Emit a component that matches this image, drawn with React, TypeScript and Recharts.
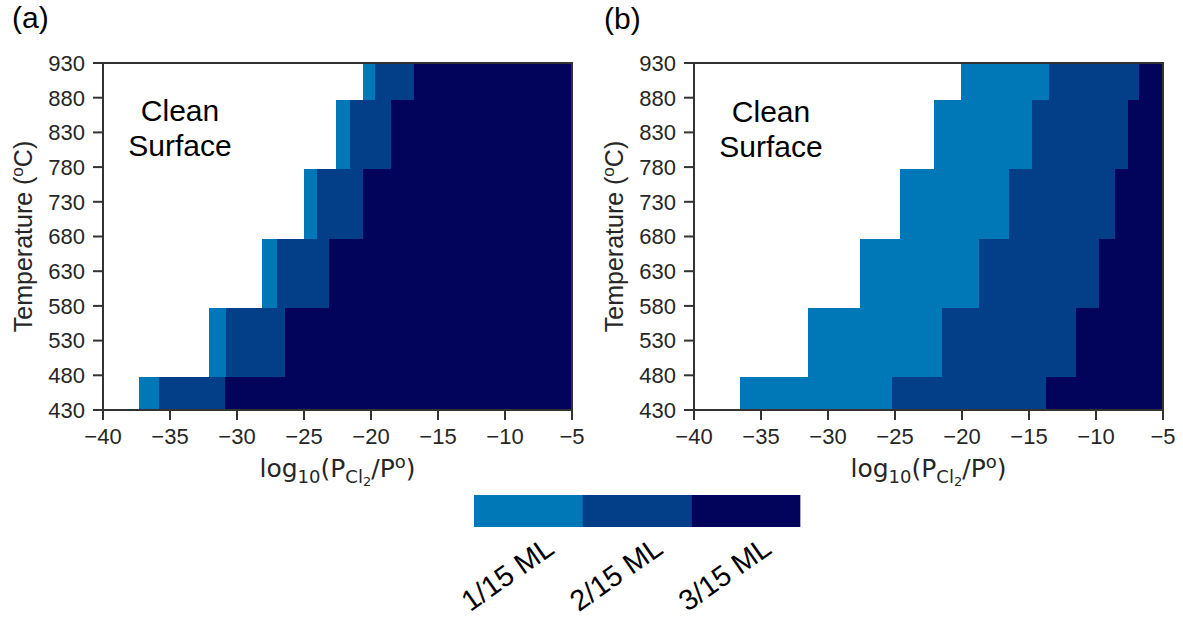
import { ComposedChart, XAxis, YAxis, ReferenceArea, BarChart, Bar, Cell } from 'recharts';

// temperature row edges (°C) and axis ticks
const TEMP_EDGES = [430, 477, 577, 677, 777, 877, 930];
const TEMP_TICKS = [430, 480, 530, 580, 630, 680, 730, 780, 830, 880, 930];
const P_TICKS = [-40, -35, -30, -25, -20, -15, -10, -5];

const COVERAGE_LABELS = ['1/15 ML', '2/15 ML', '3/15 ML'];
const COVERAGE_COLORS = ['#0077b6', '#033f88', '#02035a'];

// onset of each coverage per temperature row (bottom row first), log10(P_Cl2/P°)
const A_ONSET_1 = [-37.3, -32.1, -28.1, -25.0, -22.6, -20.6];
const A_ONSET_2 = [-35.8, -30.8, -27.0, -24.0, -21.6, -19.7];
const A_ONSET_3 = [-30.9, -26.4, -23.1, -20.6, -18.5, -16.8];

const B_ONSET_1 = [-36.6, -31.5, -27.6, -24.6, -22.1, -20.1];
const B_ONSET_2 = [-25.2, -21.5, -18.7, -16.5, -14.8, -13.5];
const B_ONSET_3 = [-13.7, -11.5, -9.8, -8.6, -7.6, -6.8];

const P_MAX = -5;

const SANS = '"Liberation Sans", Arial, sans-serif';
const AXIS = '#333333';
const TICK_TEXT = '#262626';

const fmtMinus = (v: number) => (v < 0 ? `\u2212${-v}` : `${v}`);

function buildBands(onsets: number[][]) {
  const bands: any[] = [];
  for (let row = 0; row < TEMP_EDGES.length - 1; row++) {
    onsets.forEach((series, k) => {
      bands.push({
        key: `${row}-${k}`,
        x1: series[row],
        x2: k < onsets.length - 1 ? onsets[k + 1][row] : P_MAX,
        y1: TEMP_EDGES[row],
        y2: TEMP_EDGES[row + 1],
        fill: COVERAGE_COLORS[k],
      });
    });
  }
  return bands;
}

// plain rect without antialiased seams between neighbouring cells
const CrispRect = (p: any) => (
  <rect x={p.x} y={p.y} width={p.width} height={p.height} fill={p.fill} shapeRendering="crispEdges" />
);

const XLabel = (props: any) => {
  const { viewBox } = props;
  const cx = viewBox.x + viewBox.width / 2;
  const by = viewBox.y + 67;
  return (
    <text x={cx} y={by} textAnchor="middle" fontFamily='"DejaVu Sans", sans-serif' fontSize={25} fill={TICK_TEXT}>
      log
      <tspan fontSize={18} dy={6}>10</tspan>
      <tspan dy={-6}>(P</tspan>
      <tspan fontSize={18} dy={6}>Cl</tspan>
      <tspan fontSize={13} dy={3}>2</tspan>
      <tspan dy={-9}>/P</tspan>
      <tspan fontSize={18} dy={-9}>o</tspan>
      <tspan dy={9}>)</tspan>
    </text>
  );
};

const YLabel = (props: any) => {
  const { viewBox } = props;
  const x = viewBox.x + 32;
  const y = viewBox.y + viewBox.height / 2;
  return (
    <text transform={`translate(${x},${y}) rotate(-90)`} textAnchor="middle" fontFamily={SANS} fontSize={25} fill={TICK_TEXT}>
      Temperature (
      <tspan fontSize={17} dy={-9}>o</tspan>
      <tspan dy={9}>C)</tspan>
    </text>
  );
};

function PhaseChart({ onsets, left }: { onsets: number[][]; left: number }) {
  const bands = buildBands(onsets);
  return (
    <div style={{ position: 'absolute', left, top: 0 }}>
      <ComposedChart width={600} height={500} margin={{ top: 63, right: 28, bottom: 0, left: 0 }} data={[]}>
        <XAxis
          type="number"
          dataKey="x"
          domain={[-40, -5]}
          ticks={P_TICKS}
          interval={0}
          allowDataOverflow
          tickFormatter={fmtMinus}
          height={90}
          tickSize={10}
          tickMargin={8}
          axisLine={{ stroke: AXIS, strokeWidth: 2 }}
          tickLine={{ stroke: AXIS, strokeWidth: 2 }}
          tick={{ fill: TICK_TEXT, fontSize: 22, fontFamily: SANS }}
          label={{ content: XLabel }}
        />
        <YAxis
          type="number"
          dataKey="y"
          domain={[430, 930]}
          ticks={TEMP_TICKS}
          interval={0}
          allowDataOverflow
          width={103}
          tickSize={10}
          tickMargin={8}
          axisLine={{ stroke: AXIS, strokeWidth: 2 }}
          tickLine={{ stroke: AXIS, strokeWidth: 2 }}
          tick={{ fill: TICK_TEXT, fontSize: 22, fontFamily: SANS }}
          label={{ content: YLabel }}
        />
        {bands.map((b) => (
          <ReferenceArea
            key={b.key}
            x1={b.x1}
            x2={b.x2}
            y1={b.y1}
            y2={b.y2}
            fill={b.fill}
            fillOpacity={1}
            shape={CrispRect}
          />
        ))}
        <ReferenceArea x1={-40} x2={-5} y1={430} y2={930} fill="none" fillOpacity={0} stroke={AXIS} strokeWidth={2} />
      </ComposedChart>
    </div>
  );
}

const CoverageTick = (props: any) => {
  const { x, y, payload } = props;
  return (
    <text
      transform={`translate(${x - 21},${y + 47}) rotate(-35)`}
      textAnchor="middle"
      dominantBaseline="central"
      fontSize={29}
      fontFamily={SANS}
      fill="#000"
    >
      {payload.value}
    </text>
  );
};

function ColorBar() {
  const data = COVERAGE_LABELS.map((label) => ({ label, v: 1 }));
  return (
    <div style={{ position: 'absolute', left: 374, top: 495 }}>
      <BarChart width={526} height={124} data={data} margin={{ top: 0, right: 100, bottom: 0, left: 100 }} barCategoryGap={0} barGap={0}>
        <XAxis dataKey="label" height={92} interval={0} axisLine={false} tickLine={false} tickSize={0} tickMargin={0} tick={<CoverageTick />} />
        <YAxis hide domain={[0, 1]} />
        <Bar dataKey="v" isAnimationActive={false}>
          {data.map((d, i) => (
            <Cell key={d.label} fill={COVERAGE_COLORS[i]} />
          ))}
        </Bar>
      </BarChart>
    </div>
  );
}

export default function App() {
  return (
    <div style={{ position: 'absolute', left: 0, top: 0, width: 1183, height: 619, background: '#fff', fontFamily: SANS }}>
      <PhaseChart onsets={[A_ONSET_1, A_ONSET_2, A_ONSET_3]} left={0} />
      <PhaseChart onsets={[B_ONSET_1, B_ONSET_2, B_ONSET_3]} left={591} />
      <ColorBar />
      <svg width={1183} height={200} style={{ position: 'absolute', left: 0, top: 0, pointerEvents: 'none' }}>
        <text x={12} y={28} fontSize={30} fontFamily={SANS} fill="#000">(a)</text>
        <text x={604} y={29} fontSize={30} fontFamily={SANS} fill="#000">(b)</text>
        <text textAnchor="middle" fontSize={30} fontFamily={SANS} fill="#000">
          <tspan x={180} y={121}>Clean</tspan>
          <tspan x={180} y={156}>Surface</tspan>
        </text>
        <text textAnchor="middle" fontSize={30} fontFamily={SANS} fill="#000">
          <tspan x={771} y={122}>Clean</tspan>
          <tspan x={771} y={157}>Surface</tspan>
        </text>
      </svg>
    </div>
  );
}
